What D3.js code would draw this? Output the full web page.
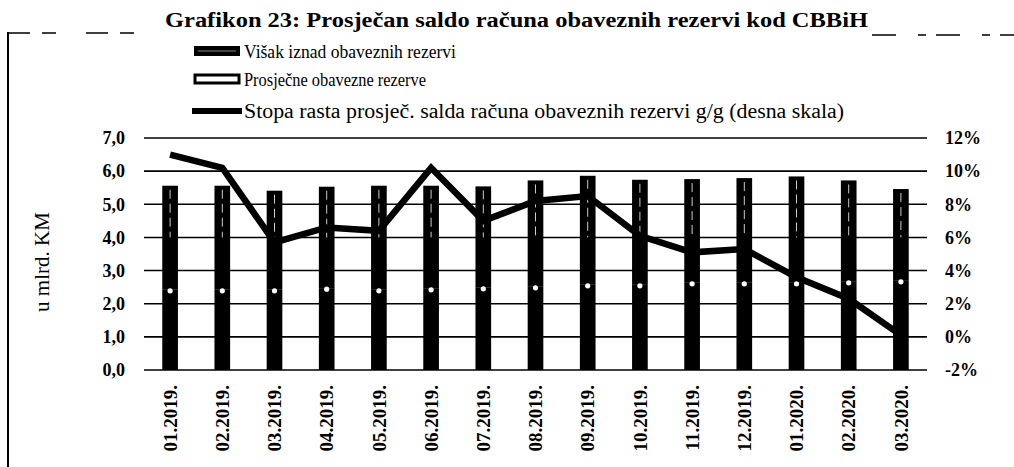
<!DOCTYPE html>
<html lang="bs">
<head>
<meta charset="utf-8">
<title>Grafikon 23</title>
<script src="https://d3js.org/d3.v7.min.js"></script>
<style>
body { margin:0; background:#fff; }
svg { display:block; font-family:"Liberation Serif","Times New Roman",serif; }
.tick text { font-family:"Liberation Serif","Times New Roman",serif; font-weight:bold; font-size:18px; fill:#000; }
</style>
</head>
<body>
<div id="chart"></div>
<script>
// podaci ocitani sa grafikona
var months = ["01.2019.","02.2019.","03.2019.","04.2019.","05.2019.","06.2019.","07.2019.","08.2019.","09.2019.","10.2019.","11.2019.","12.2019.","01.2020.","02.2020.","03.2020."];
var obavezne = [2.42,2.42,2.42,2.47,2.42,2.45,2.48,2.51,2.57,2.57,2.63,2.63,2.63,2.66,2.69];
var visak    = [3.14,3.14,2.99,3.06,3.14,3.11,3.06,3.21,3.29,3.17,3.13,3.16,3.21,3.06,2.77];
var stopa    = [11.0,10.2,5.7,6.6,6.4,10.2,7.0,8.2,8.5,6.1,5.1,5.3,3.6,2.3,0.1];
var leftTicks  = [0,1,2,3,4,5,6,7];
var rightTicks = [-2,0,2,4,6,8,10,12];
var legendNames = ["Višak iznad obaveznih rezervi","Prosječne obavezne rezerve","Stopa rasta prosječ. salda računa obaveznih rezervi g/g (desna skala)"];
var legendLen = [212,182,600];

var W = 1014, H = 467;
var svg = d3.select("#chart").append("svg").attr("width",W).attr("height",H);
svg.append("rect").attr("width",W).attr("height",H).attr("fill","#fff");

var x = d3.scaleBand().domain(months).range([144,927]).paddingInner(0.7).paddingOuter(0.35);
var yL = d3.scaleLinear().domain([0,7]).range([370,138]);
var yR = d3.scaleLinear().domain([-2,12]).range([370,138]);

// okvir (isprekidan gore, pun lijevo)
svg.append("line").attr("x1",8).attr("x2",160).attr("y1",33).attr("y2",33)
	.attr("stroke","#000").attr("stroke-width",1.5).attr("stroke-dasharray","22,12,14,30");
svg.append("line").attr("x1",872).attr("x2",1014).attr("y1",35).attr("y2",35)
	.attr("stroke","#000").attr("stroke-width",1.5).attr("stroke-dasharray","24,22,8,10");
svg.append("line").attr("x1",8).attr("x2",8).attr("y1",32).attr("y2",H)
	.attr("stroke","#000").attr("stroke-width",2);

// naslov
svg.append("text").attr("x",165).attr("y",27)
	.attr("font-size",20).attr("font-weight","bold")
	.attr("textLength",703).attr("lengthAdjust","spacingAndGlyphs")
	.text("Grafikon 23: Prosječan saldo računa obaveznih rezervi kod CBBiH");

// legenda
var lg = svg.append("g");
var ly = [51,79,111];
lg.append("rect").attr("x",194).attr("y",ly[0]-5).attr("width",46).attr("height",10).attr("fill","#000");
lg.append("line").attr("x1",198).attr("x2",236).attr("y1",ly[0]).attr("y2",ly[0]).attr("stroke","#888").attr("stroke-width",1);
lg.append("rect").attr("x",195).attr("y",ly[1]-4).attr("width",44).attr("height",8)
	.attr("fill","#fff").attr("stroke","#000").attr("stroke-width",3);
lg.append("line").attr("x1",192).attr("x2",242).attr("y1",ly[2]).attr("y2",ly[2]).attr("stroke","#000").attr("stroke-width",6);
lg.selectAll("text.leg").data(legendNames).enter().append("text").attr("class","leg")
	.attr("x",244).attr("y",function(d,i){ return ly[i]; }).attr("dy","0.35em")
	.attr("font-size",function(d,i){ return i < 2 ? 19 : 20; })
	.attr("textLength",function(d,i){ return legendLen[i]; })
	.attr("lengthAdjust","spacingAndGlyphs").text(function(d){ return d; });

// mreza
svg.append("g").selectAll("line").data(leftTicks).enter().append("line")
	.attr("x1",144).attr("x2",927)
	.attr("y1",function(d){ return yL(d); }).attr("y2",function(d){ return yL(d); })
	.attr("stroke","#000").attr("stroke-width",1.6);

// stubici
var bars = svg.append("g");
months.forEach(function(m,i){
	var bx = x(m), bw = x.bandwidth();
	var top = obavezne[i] + visak[i];
	bars.append("rect").attr("x",bx).attr("y",yL(obavezne[i])).attr("width",bw)
		.attr("height",yL(0)-yL(obavezne[i])).attr("fill","#000");
	bars.append("rect").attr("x",bx).attr("y",yL(top)).attr("width",bw)
		.attr("height",yL(obavezne[i])-yL(top)).attr("fill","#000");
	bars.append("line").attr("x1",bx+bw/2).attr("x2",bx+bw/2)
		.attr("y1",yL(top)+4).attr("y2",yL(4))
		.attr("stroke","#fff").attr("stroke-width",1).attr("stroke-dasharray","9,5").attr("opacity",0.8);
	bars.append("circle").attr("cx",bx+bw/2).attr("cy",yL(obavezne[i])+1).attr("r",2.6).attr("fill","#fff");
});

// linija stope rasta
var line = d3.line()
	.x(function(d,i){ return x(months[i]) + x.bandwidth()/2; })
	.y(function(d){ return yR(d); });
svg.append("path").datum(stopa).attr("d",line)
	.attr("fill","none").attr("stroke","#000").attr("stroke-width",6.5).attr("stroke-linejoin","miter");

// ose
var axL = svg.append("g").attr("transform","translate(144,0)")
	.call(d3.axisLeft(yL).tickValues(leftTicks).tickSize(0).tickPadding(19)
		.tickFormat(function(d){ return d3.format(".1f")(d).replace(".",","); }));
axL.select(".domain").remove();
var axR = svg.append("g").attr("transform","translate(927,0)")
	.call(d3.axisRight(yR).tickValues(rightTicks).tickSize(0).tickPadding(18)
		.tickFormat(function(d){ return d + "%"; }));
axR.select(".domain").remove();

svg.append("g").selectAll("text").data(months).enter().append("text")
	.attr("transform",function(d){ return "translate(" + (x(d)+x.bandwidth()/2) + ",385) rotate(-90)"; })
	.attr("text-anchor","end").attr("dy","0.35em")
	.attr("font-size",19).attr("font-weight","bold").text(function(d){ return d; });

svg.append("text").attr("transform","translate(42,262) rotate(-90)")
	.attr("text-anchor","middle").attr("dy","0.35em").attr("font-size",21)
	.text("u mlrd. KM");
</script>
</body>
</html>
